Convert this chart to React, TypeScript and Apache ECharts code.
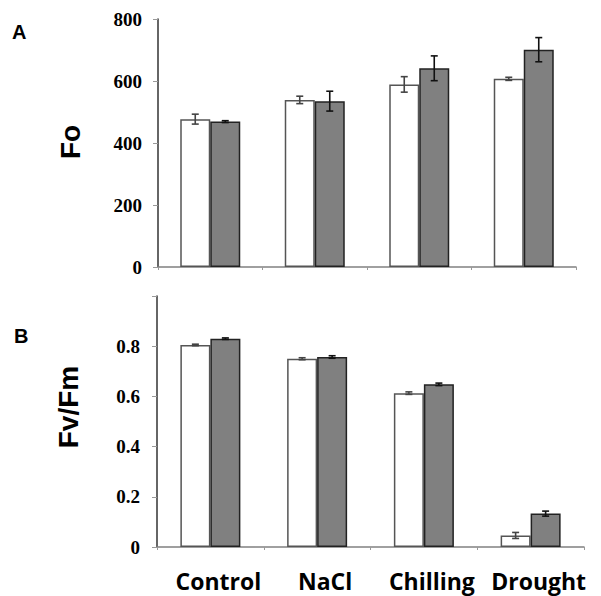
import React, { useEffect, useRef } from "react";
import * as echarts from "echarts";

const categories = ["Control", "NaCl", "Chilling", "Drought"];

const foWhite = [477, 539, 589, 607];
const foWhiteErr = [16, 12, 25, 5];
const foGray = [469, 535, 641, 701];
const foGrayErr = [3, 32, 40, 39];

const fvWhite = [0.805, 0.75, 0.613, 0.046];
const fvWhiteErr = [0.003, 0.004, 0.005, 0.012];
const fvGray = [0.83, 0.757, 0.648, 0.133];
const fvGrayErr = [0.003, 0.005, 0.005, 0.01];

const foTicks = { min: 0, max: 800, interval: 200 };
const fvTicks = { min: 0, max: 1, interval: 0.2 };

function errSeries(values: number[], errs: number[], axisIdx: number, offset: number, color: string) {
  return {
    type: "custom",
    xAxisIndex: axisIdx,
    yAxisIndex: axisIdx,
    z: 10,
    data: values.map((v, i) => [i, v, errs[i]]),
    encode: { x: 0, y: 1 },
    renderItem: (_p: any, api: any) => {
      const i = api.value(0);
      const v = api.value(1);
      const e = api.value(2);
      const hi = api.coord([i, v + e]);
      const lo = api.coord([i, v - e]);
      const x = hi[0] + offset;
      const cap = 3.5;
      const style = { stroke: color, lineWidth: 1.6 };
      return {
        type: "group",
        children: [
          { type: "line", shape: { x1: x, y1: hi[1], x2: x, y2: lo[1] }, style },
          { type: "line", shape: { x1: x - cap, y1: hi[1], x2: x + cap, y2: hi[1] }, style },
          { type: "line", shape: { x1: x - cap, y1: lo[1], x2: x + cap, y2: lo[1] }, style },
        ],
      };
    },
  };
}

export default function App() {
  const ref = useRef<HTMLDivElement>(null);
  useEffect(() => {
    if (!ref.current) return;
    const chart = echarts.init(ref.current, null, { renderer: "svg" });
    const tickLabel = {
      fontFamily: "Liberation Serif",
      fontWeight: "bold",
      fontSize: 19,
      color: "#000",
    };
    const whiteBar = { color: "#ffffff", borderColor: "#555555", borderWidth: 1.5 };
    const grayBar = { color: "#808080", borderColor: "#222222", borderWidth: 1.5 };
    chart.setOption({
      animation: false,
      backgroundColor: "#ffffff",
      grid: [
        { left: 158, top: 19, width: 418, height: 248 },
        { left: 157, top: 296, width: 427, height: 251 },
      ],
      xAxis: [
        {
          type: "category",
          gridIndex: 0,
          data: categories,
          axisLine: { lineStyle: { color: "#808080", width: 1.5 } },
          axisTick: { show: true, length: 3, lineStyle: { color: "#999" } },
          axisLabel: { show: false },
        },
        {
          type: "category",
          gridIndex: 1,
          data: categories,
          axisLine: { lineStyle: { color: "#808080", width: 1.5 } },
          axisTick: { show: true, length: 3, lineStyle: { color: "#999" } },
          axisLabel: {
            show: true,
            interval: 0,
            hideOverlap: false,
            margin: 22,
            fontFamily: "Open Sans",
            fontWeight: "bold",
            fontSize: 23,
            color: "#000",
            padding: [0, 0, 0, 16],
          },
        },
      ],
      yAxis: [
        {
          type: "value",
          gridIndex: 0,
          ...foTicks,
          axisLine: { show: true, lineStyle: { color: "#333", width: 1.5 } },
          axisTick: { show: true, length: 5, lineStyle: { color: "#999" } },
          splitLine: { show: false },
          axisLabel: { ...tickLabel, margin: 16 },
        },
        {
          type: "value",
          gridIndex: 1,
          ...fvTicks,
          axisLine: { show: true, lineStyle: { color: "#333", width: 1.5 } },
          axisTick: { show: true, length: 5, lineStyle: { color: "#999" } },
          splitLine: { show: false },
          axisLabel: {
            ...tickLabel,
            margin: 17,
            formatter: (v: number) => (v >= 0.99 ? "" : v === 0 ? "0" : v.toFixed(1)),
          },
        },
      ],
      series: [
        { type: "bar", xAxisIndex: 0, yAxisIndex: 0, data: foWhite, barWidth: 30, barGap: "0%", itemStyle: whiteBar },
        { type: "bar", xAxisIndex: 0, yAxisIndex: 0, data: foGray, barWidth: 30, barGap: "0%", itemStyle: grayBar },
        { type: "bar", xAxisIndex: 1, yAxisIndex: 1, data: fvWhite, barWidth: 30, barGap: "0%", itemStyle: whiteBar },
        { type: "bar", xAxisIndex: 1, yAxisIndex: 1, data: fvGray, barWidth: 30, barGap: "0%", itemStyle: grayBar },
        errSeries(foWhite, foWhiteErr, 0, -15, "#444"),
        errSeries(foGray, foGrayErr, 0, 15, "#111"),
        errSeries(fvWhite, fvWhiteErr, 1, -15, "#444"),
        errSeries(fvGray, fvGrayErr, 1, 15, "#111"),
      ],
      graphic: [
        {
          type: "text",
          left: 12,
          top: 22,
          style: { text: "A", fontFamily: "Liberation Sans", fontWeight: "bold", fontSize: 20, fill: "#000" },
        },
        {
          type: "text",
          left: 14,
          top: 326,
          style: { text: "B", fontFamily: "Liberation Sans", fontWeight: "bold", fontSize: 20, fill: "#000" },
        },
        {
          type: "text",
          x: 70,
          y: 142,
          rotation: Math.PI / 2,
          style: {
            text: "Fo",
            fontFamily: "Liberation Sans",
            fontWeight: "bold",
            fontSize: 28,
            fill: "#000",
            align: "center",
            verticalAlign: "middle",
          },
        },
        {
          type: "text",
          x: 68,
          y: 407,
          rotation: Math.PI / 2,
          style: {
            text: "Fv/Fm",
            fontFamily: "Liberation Sans",
            fontWeight: "bold",
            fontSize: 28,
            fill: "#000",
            align: "center",
            verticalAlign: "middle",
          },
        },
      ],
    });
    return () => chart.dispose();
  }, []);
  return (
    <div
      ref={ref}
      style={{ position: "fixed", left: 0, top: 0, width: 601, height: 596 }}
    />
  );
}
